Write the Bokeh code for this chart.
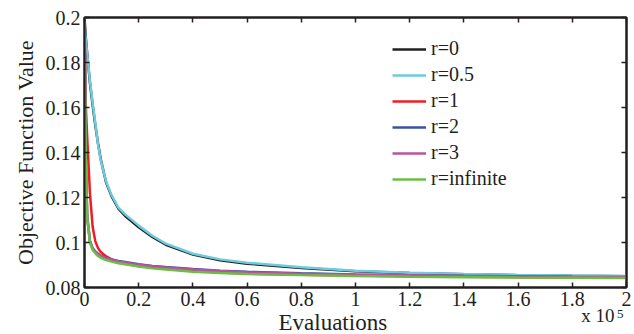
from bokeh.plotting import figure
from bokeh.models import (Range1d, FixedTicker, LinearAxis, Legend, LegendItem, Title)
from bokeh.embed import file_html
from bokeh.resources import INLINE

# ---------------- data ----------------
evaluations = [0, 500, 1000, 2000, 3000, 4000, 5000, 6000, 8000, 10000, 12500, 15000,
               20000, 25000, 30000, 40000, 50000, 60000, 80000, 100000, 120000,
               140000, 160000, 180000, 200000]

r_0 = [0.200, 0.191, 0.184, 0.171, 0.161, 0.152, 0.144, 0.137, 0.1265, 0.1205, 0.1150, 0.1118,
       0.1068, 0.1025, 0.0990, 0.0946, 0.0921, 0.0906, 0.0887, 0.0872, 0.0864,
       0.0859, 0.0855, 0.0852, 0.0850]
r_05 = [0.196, 0.190, 0.184, 0.172, 0.162, 0.153, 0.1435, 0.1365, 0.1270, 0.1210, 0.1155, 0.1125,
        0.1075, 0.1030, 0.0995, 0.0950, 0.0925, 0.0910, 0.0890, 0.0874, 0.0866,
        0.0860, 0.0856, 0.0853, 0.0851]
r_1 = [0.200, 0.160, 0.147, 0.122, 0.107, 0.1005, 0.0975, 0.0958, 0.0938, 0.0925, 0.0914, 0.0906,
       0.0896, 0.0889, 0.0884, 0.0874, 0.0867, 0.0862, 0.0857, 0.0853, 0.0850,
       0.0848, 0.0846, 0.0845, 0.0844]
r_2 = [0.200, 0.136, 0.112, 0.1008, 0.0975, 0.0960, 0.0950, 0.0942, 0.0932, 0.0925, 0.0918, 0.0913,
       0.0903, 0.0896, 0.0891, 0.0882, 0.0875, 0.0870, 0.0863, 0.0858, 0.0855,
       0.0852, 0.0850, 0.0848, 0.0847]
r_3 = [0.200, 0.135, 0.111, 0.1005, 0.0973, 0.0958, 0.0948, 0.0940, 0.0930, 0.0923, 0.0916, 0.0911,
       0.0901, 0.0894, 0.0889, 0.0880, 0.0873, 0.0868, 0.0861, 0.0857, 0.0854,
       0.0851, 0.0849, 0.0847, 0.0846]
r_inf = [0.198, 0.134, 0.111, 0.1000, 0.0967, 0.0952, 0.0940, 0.0932, 0.0922, 0.0915, 0.0908, 0.0903,
         0.0893, 0.0885, 0.0880, 0.0870, 0.0864, 0.0860, 0.0855, 0.0851, 0.0848,
         0.0846, 0.0844, 0.0843, 0.0842]

series_names = ["r=0", "r=0.5", "r=1", "r=2", "r=3", "r=infinite"]
series_values = [r_0, r_05, r_1, r_2, r_3, r_inf]
series_colors = ["#231f20", "#6dcbdc", "#ee1d23", "#3a53a4", "#b9529f", "#6cbd45"]

x_ticks = [0, 20000, 40000, 60000, 80000, 100000, 120000, 140000, 160000, 180000, 200000]
x_tick_labels = ["0", "0.2", "0.4", "0.6", "0.8", "1", "1.2", "1.4", "1.6", "1.8", "2"]
y_ticks = [0.08, 0.1, 0.12, 0.14, 0.16, 0.18, 0.2]
y_tick_labels = ["0.08", "0.1", "0.12", "0.14", "0.16", "0.18", "0.2"]
x_scale_text = "x 10"
x_scale_exponent = "5"

FONT = "Liberation Serif"
INK = "#231f20"

p = figure(width=634, height=334, output_backend="svg", toolbar_location=None,
           x_range=Range1d(0, 200000), y_range=Range1d(0.08, 0.2),
           min_border_left=84, min_border_right=8, min_border_top=17, min_border_bottom=47)
p.xgrid.visible = False
p.ygrid.visible = False
p.outline_line_color = INK
p.outline_line_width = 2

def style_axis(ax, ticks, labels, show_labels=True):
    ax.ticker = FixedTicker(ticks=ticks)
    ax.major_tick_in = 5
    ax.major_tick_out = 0
    ax.minor_tick_line_color = None
    ax.axis_line_color = INK
    ax.axis_line_width = 2
    ax.major_tick_line_color = INK
    ax.major_tick_line_width = 1.5
    ax.major_label_text_font = FONT
    if show_labels:
        ax.major_label_overrides = {t: l for t, l in zip(ticks, labels)}
        ax.major_label_text_color = INK
        ax.major_label_text_font_size = "20px"
        ax.major_label_standoff = 4
    else:
        ax.major_label_text_color = None
        ax.major_label_text_font_size = "0px"
        ax.major_label_standoff = 0

style_axis(p.xaxis[0], x_ticks, x_tick_labels)
style_axis(p.yaxis[0], y_ticks, y_tick_labels)
p.yaxis[0].axis_label = "Objective Function Value"
p.yaxis[0].axis_label_text_font = FONT
p.yaxis[0].axis_label_text_font_size = "22px"
p.yaxis[0].axis_label_text_font_style = "normal"
p.yaxis[0].axis_label_text_color = INK
p.yaxis[0].axis_label_standoff = 5

top_ax = LinearAxis()
right_ax = LinearAxis()
style_axis(top_ax, x_ticks, x_tick_labels, show_labels=False)
style_axis(right_ax, y_ticks, y_tick_labels, show_labels=False)
p.add_layout(top_ax, "above")
p.add_layout(right_ax, "right")

items = []
for name, vals, col in zip(series_names, series_values, series_colors):
    r = p.line(evaluations, vals, line_color=col, line_width=2.5)
    items.append(LegendItem(label=name, renderers=[r]))

legend = Legend(items=items, location=(308, 97), border_line_color=None,
                background_fill_alpha=0, padding=0, margin=0, spacing=3,
                glyph_width=34, glyph_height=22, label_height=22, label_standoff=5,
                label_text_font=FONT, label_text_font_size="20px", label_text_color=INK)
p.add_layout(legend, "center")

# below the axis: exponent "5", then "x 10", then "Evaluations" (overlapping rows)
p.add_layout(Title(text=x_scale_exponent, align="right", offset=3, standoff=-18,
                   text_font=FONT, text_font_size="13px", text_font_style="normal",
                   text_color=INK), "below")
p.add_layout(Title(text=x_scale_text, align="right", offset=12, standoff=-11,
                   text_font=FONT, text_font_size="19px", text_font_style="normal",
                   text_color=INK), "below")
p.add_layout(Title(text="Evaluations", align="left", offset=194, standoff=-25,
                   text_font=FONT, text_font_size="23px", text_font_style="normal",
                   text_color=INK), "below")

open("out.html", "w").write(file_html(p, INLINE))
